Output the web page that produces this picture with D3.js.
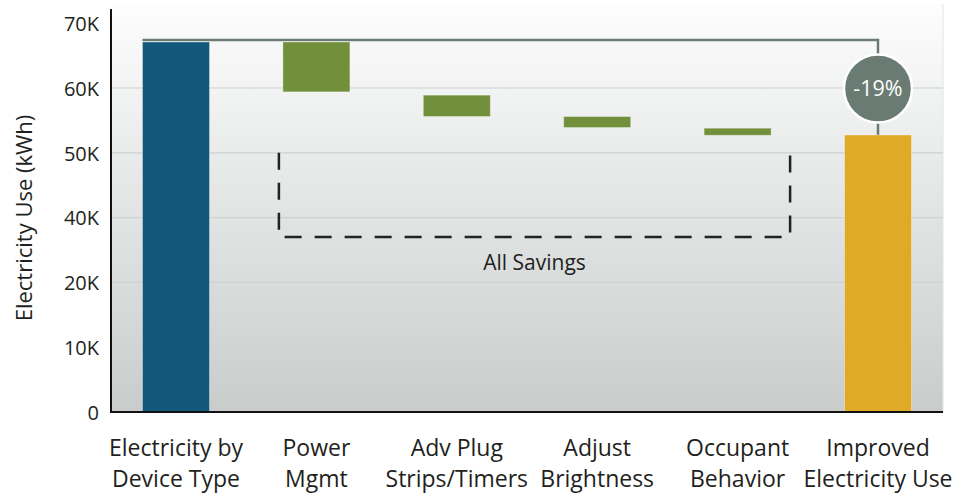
<!DOCTYPE html>
<meta charset="utf-8">
<style>
html, body {
  margin: 0;
  padding: 0;
  background: #fff;
}
svg text {
  font-family: "Open Sans", Lato, sans-serif;
  fill: #231f20;
}
</style>
<svg id="chart" width="958" height="494"></svg>
<script src="https://d3js.org/d3.v7.min.js"></script>
<script>

// data (kWh)
var categories = ["Electricity by Device Type", "Power Mgmt", "Adv Plug Strips/Timers",
                  "Adjust Brightness", "Occupant Behavior", "Improved Electricity Use"];
var labelLines = [["Electricity by", "Device Type"], ["Power", "Mgmt"], ["Adv Plug", "Strips/Timers"],
                  ["Adjust", "Brightness"], ["Occupant", "Behavior"], ["Improved", "Electricity Use"]];
var barTop  = [67100, 67100, 58900, 55600, 53800, 52750];
var barBase = [0, 59400, 55600, 53900, 52700, 0];
var barKind = ["start", "saving", "saving", "saving", "saving", "end"];
// the original axis skips 30K
var tickValues = [0, 10000, 20000, 40000, 50000, 60000, 70000];
var tickLabels = ["0", "10K", "20K", "40K", "50K", "60K", "70K"];
var changeLabel = "-19%";
var bracketTop = 50000, bracketBottom = 34000;

var colors = {start: "#12587a", saving: "#72903b", end: "#e1a928"};

var svg = d3.select("#chart");
var left = 111, right = 943, bottom = 412, tickStep = 64.8;

// tick positions are evenly spaced even though the labels are not
var y = d3.scaleLinear()
    .domain(tickValues)
    .range(tickValues.map(function(d, i) { return bottom - i * tickStep; }));

var x = d3.scalePoint()
    .domain(categories)
    .range([176, 878]);
var barW = 67;

// background gradient
var grad = svg.append("defs").append("linearGradient")
    .attr("id", "bg").attr("x1", 0).attr("y1", 0).attr("x2", 0).attr("y2", 1);
grad.append("stop").attr("offset", "0%").attr("stop-color", "#fdfdfd");
grad.append("stop").attr("offset", "100%").attr("stop-color", "#c8cdcc");

svg.append("rect")
    .attr("x", left).attr("y", 4)
    .attr("width", right - left).attr("height", bottom - 4)
    .attr("fill", "url(#bg)");

svg.append("line")
    .attr("x1", right).attr("x2", right)
    .attr("y1", 4).attr("y2", bottom)
    .attr("stroke", "#e2e4e4").attr("stroke-width", 1);

// gridlines
svg.append("g").selectAll("line")
    .data(tickValues.slice(1, -1))
    .join("line")
    .attr("x1", left).attr("x2", right)
    .attr("y1", function(d) { return y(d); })
    .attr("y2", function(d) { return y(d); })
    .attr("stroke", "#cdd1d0")
    .attr("stroke-width", 1.2);

// y axis
var yAxis = svg.append("g")
    .attr("transform", "translate(" + left + ",0)")
    .call(d3.axisLeft(y).tickValues(tickValues)
        .tickFormat(function(d, i) { return tickLabels[i]; })
        .tickSize(0).tickPadding(12));
yAxis.select(".domain").remove();
yAxis.selectAll("text")
    .style("font-size", "20px")
    .attr("dy", "0.36em");

svg.append("line")
    .attr("x1", left).attr("x2", left)
    .attr("y1", 9).attr("y2", bottom + 1)
    .attr("stroke", "#111").attr("stroke-width", 2);

svg.append("text")
    .attr("transform", "translate(32," + 218 + ") rotate(-90)")
    .attr("text-anchor", "middle")
    .style("font-size", "22px")
    .text("Electricity Use (kWh)");

// connector from start to end through the change bubble
var cx = x(categories[categories.length - 1]);
var bubbleY = y((barTop[0] + barTop[barTop.length - 1]) / 2);
var r = 34;
svg.append("path")
    .attr("d", "M" + (x(categories[0]) - barW / 2) + "," + (y(barTop[0]) - 2) +
               "H" + cx + "V" + y(barTop[barTop.length - 1]))
    .attr("fill", "none")
    .attr("stroke", "#6b7b74")
    .attr("stroke-width", 2.5);

// bars
svg.append("g").selectAll("rect")
    .data(categories)
    .join("rect")
    .attr("x", function(d) { return x(d) - barW / 2; })
    .attr("y", function(d, i) { return y(barTop[i]); })
    .attr("width", barW)
    .attr("height", function(d, i) { return y(barBase[i]) - y(barTop[i]); })
    .attr("fill", function(d, i) { return colors[barKind[i]]; })
    .attr("stroke", "rgba(255,255,255,0.35)")
    .attr("stroke-width", 1);

// x axis line
svg.append("line")
    .attr("x1", left).attr("x2", right)
    .attr("y1", bottom).attr("y2", bottom)
    .attr("stroke", "#111").attr("stroke-width", 2);

// bubble
svg.append("circle")
    .attr("cx", cx).attr("cy", bubbleY).attr("r", r)
    .attr("fill", "#6a7b73")
    .attr("stroke", "#fff").attr("stroke-width", 2.5);
svg.append("text")
    .attr("x", cx).attr("y", bubbleY)
    .attr("dy", "0.36em")
    .attr("text-anchor", "middle")
    .style("font-size", "21.5px")
    .style("fill", "#fff")
    .text(changeLabel);

// dashed bracket round the savings
var bx0 = x(categories[1]) - barW / 2 - 4, bx1 = x(categories[4]) + barW / 2 + 19;
svg.append("path")
    .attr("d", "M" + bx0 + "," + y(bracketTop) + "V" + y(bracketBottom) +
               "H" + bx1 + "V" + y(bracketTop))
    .attr("fill", "none")
    .attr("stroke", "#222")
    .attr("stroke-width", 2.5)
    .attr("stroke-dasharray", "17,13");

svg.append("text")
    .attr("x", (bx0 + bx1) / 2)
    .attr("y", y(bracketBottom) + 33)
    .attr("text-anchor", "middle")
    .style("font-size", "21px")
    .text("All Savings");

// category labels
var lab = svg.append("g").selectAll("text")
    .data(categories)
    .join("text")
    .attr("x", function(d) { return x(d); })
    .attr("y", 456)
    .attr("text-anchor", "middle")
    .style("font-size", "23px");
lab.selectAll("tspan")
    .data(function(d, i) { return labelLines[i]; })
    .join("tspan")
    .attr("x", function() { return d3.select(this.parentNode).attr("x"); })
    .attr("dy", function(d, i) { return i ? 31 : 0; })
    .text(function(d) { return d; });

</script>
